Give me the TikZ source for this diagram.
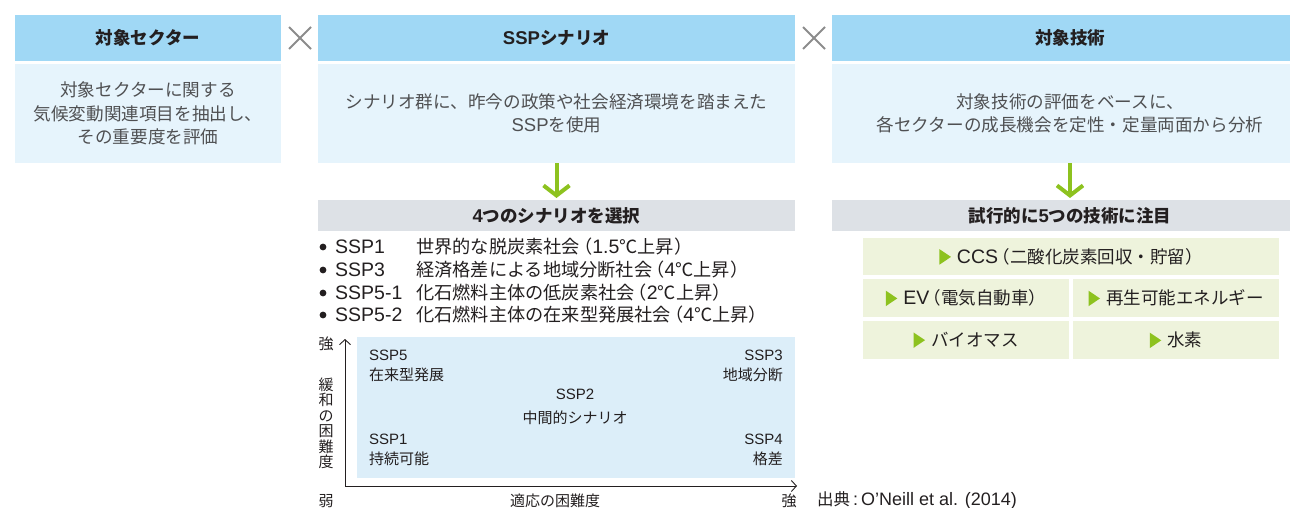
\documentclass[tikz,border=0pt]{standalone}
\usepackage{fontspec}
\setmainfont{Noto Sans CJK JP}
\newfontfamily\lat{Liberation Sans}
\usetikzlibrary{arrows.meta}
\definecolor{hdrblue}{HTML}{A0D8F5}
\definecolor{bodyblue}{HTML}{E6F4FC}
\definecolor{graybar}{HTML}{DDE1E6}
\definecolor{chartblue}{HTML}{DCEEF9}
\definecolor{greenbox}{HTML}{EEF3DC}
\definecolor{grn}{HTML}{8DC21F}
\definecolor{txtdark}{HTML}{231F20}
\definecolor{txtgray}{HTML}{4F5052}
\definecolor{crossgray}{HTML}{8C8C8C}
\newcommand\tri{\tikz[baseline=0pt]\fill[grn] (0pt,-1.5pt) -- (0pt,14pt) -- (11.5pt,6.25pt) -- cycle;\hspace{6pt}}
\newcommand\LL[1]{{\lat\fontsize{19.5}{20}\selectfont #1}}
\newcommand\lp{\hspace{-0.32em}（}
\newcommand\rp{）}
\begin{document}
\begin{tikzpicture}[x=1pt,y=-1pt,
  hdr/.style={fill=hdrblue, minimum height=46pt, inner sep=0pt, outer sep=0pt, anchor=north west, font=\bfseries\fontsize{17.5}{20}\selectfont, text=txtdark},
  bodyb/.style={fill=bodyblue, minimum height=99pt, inner sep=0pt, outer sep=0pt, anchor=north west, align=center, font=\fontsize{17.6}{23.5}\selectfont, text=txtgray},
  gbar/.style={fill=graybar, minimum height=31pt, inner sep=0pt, outer sep=0pt, anchor=north west, font=\bfseries\fontsize{17.5}{20}\selectfont, text=txtdark},
  gbox/.style={fill=greenbox, inner sep=0pt, outer sep=0pt, anchor=north west, font=\fontsize{17.5}{20}\selectfont, text=txtdark},
  garrow/.style={draw=grn, line width=4pt, -{Straight Barb[length=10pt,width=26pt]}},
  crossline/.style={draw=crossgray, line width=2pt},
  listtxt/.style={anchor=west, inner sep=0pt, font=\fontsize{18.2}{20}\selectfont, text=txtdark},
  chartlbl/.style={inner sep=0pt, font=\fontsize{15}{20}\selectfont, text=txtdark},
  axisarrow/.style={draw=txtdark, line width=0.9pt, -{Straight Barb[length=5pt,width=11pt]}},
  axlbl/.style={inner sep=0pt, font=\fontsize{15}{15.5}\selectfont, text=txtdark, align=center}
]
\useasboundingbox (0,0) rectangle (1290,508);

% top boxes
\node[hdr, minimum width=266pt] (h1) at (15,15) {対象セクター};
\node[bodyb, minimum width=266pt] (b1) at (15,64) {対象セクターに関する\\気候変動関連項目を抽出し、\\その重要度を評価};
\node[hdr, minimum width=477pt] (h2) at (318,15) {{\lat\bfseries\fontsize{18.5}{20}\selectfont SSP}シナリオ};
\node[bodyb, minimum width=477pt] (b2) at (318,64) {シナリオ群に、昨今の政策や社会経済環境を踏まえた\\{\lat\fontsize{18.5}{20}\selectfont SSP}を使用};
\node[hdr, minimum width=476pt] (h3) at (832,15) {対象技術};
\node[bodyb, minimum width=476pt] (b3) at (832,64) {対象技術の評価をベースに、\\各セクターの成長機会を定性・定量両面から分析};

% crosses
\draw[crossline] (289,27) -- (311,49) (289,49) -- (311,27);
\draw[crossline] (803,27) -- (825,49) (803,49) -- (825,27);

% gray bars
\node[gbar, minimum width=477pt] (g2) at (318,200) {{\lat\bfseries\fontsize{18.5}{20}\selectfont 4}つのシナリオを選択};
\node[gbar, minimum width=476pt] (g3) at (832,200) {試行的に{\lat\bfseries\fontsize{18.5}{20}\selectfont 5}つの技術に注目};

% green arrows
\draw[garrow] (b2.south) -- ([yshift=2pt]g2.north);
\draw[garrow] (b3.south) -- ([yshift=2pt]g3.north);

% list
\foreach \yy in {247,270,293,315} {\fill[txtdark] (323,\yy) circle (3.4pt);}
\node[listtxt] (l1a) at (335,247) {\LL{SSP1}};
\node[listtxt] (l1b) at (416,247) {世界的な脱炭素社会\lp\LL{1.5}℃上昇\rp};
\node[listtxt] (l2a) at (335,270) {\LL{SSP3}};
\node[listtxt] (l2b) at (416,270) {経済格差による地域分断社会\lp\LL{4}℃上昇\rp};
\node[listtxt] (l3a) at (335,293) {\LL{SSP5-1}};
\node[listtxt] (l3b) at (416,293) {化石燃料主体の低炭素社会\lp\LL{2}℃上昇\rp};
\node[listtxt] (l4a) at (335,315) {\LL{SSP5-2}};
\node[listtxt] (l4b) at (416,315) {化石燃料主体の在来型発展社会\lp\LL{4}℃上昇\rp};

% chart
\node[fill=chartblue, inner sep=0pt, outer sep=0pt, anchor=north west, minimum width=438pt, minimum height=141pt] (chart) at (357,337) {};
\coordinate (O) at (345,486);
\coordinate (Ytop) at (345,339);
\coordinate (Xend) at (797,486);
\draw[axisarrow] (O) -- (Ytop);
\draw[axisarrow] (O) -- (Xend);
\node[chartlbl, anchor=west, align=left] (s5) at (369,366) {{\lat\fontsize{15}{20}\selectfont SSP5}\\在来型発展};
\node[chartlbl, anchor=east, align=right] (s3) at (783,366) {{\lat\fontsize{15}{20}\selectfont SSP3}\\地域分断};
\node[chartlbl, anchor=center, align=center, font=\fontsize{15}{24}\selectfont] (s2) at (575,407) {{\lat\fontsize{15}{24}\selectfont SSP2}\\中間的シナリオ};
\node[chartlbl, anchor=west, align=left] (s1) at (369,450) {{\lat\fontsize{15}{20}\selectfont SSP1}\\持続可能};
\node[chartlbl, anchor=east, align=right] (s4) at (783,450) {{\lat\fontsize{15}{20}\selectfont SSP4}\\格差};
\node[axlbl] (ystrong) at (326,344) {強};
\node[axlbl] (yweak) at (326,501) {弱};
\node[axlbl] (xstrong) at (789,501) {強};
\node[axlbl] (ylabel) at (326,423.5) {緩\\和\\の\\困\\難\\度};
\node[axlbl] (xlabel) at (555,501) {適応の困難度};

% tech boxes
\node[gbox, minimum width=416pt, minimum height=37pt] (ccs) at (863,238) {\tri{\lat\fontsize{19.5}{20}\selectfont CCS}\lp 二酸化炭素回収・貯留\rp};
\node[gbox, minimum width=206pt, minimum height=38pt] (ev) at (863,279) {\tri{\lat\fontsize{19.5}{20}\selectfont EV}\lp 電気自動車\rp};
\node[gbox, minimum width=206pt, minimum height=38pt] (re) at (1073,279) {\tri 再生可能エネルギー};
\node[gbox, minimum width=206pt, minimum height=38pt] (bio) at (863,321) {\tri バイオマス};
\node[gbox, minimum width=206pt, minimum height=38pt] (h2x) at (1073,321) {\tri 水素};

% source
\node[anchor=west, inner sep=0pt, font=\fontsize{16.5}{18}\selectfont, text=txtdark] (src) at (817,500) {出典{\lat\fontsize{18}{18}\selectfont\,:\,O’Neill et al. (2014)}};
\end{tikzpicture}
\end{document}
